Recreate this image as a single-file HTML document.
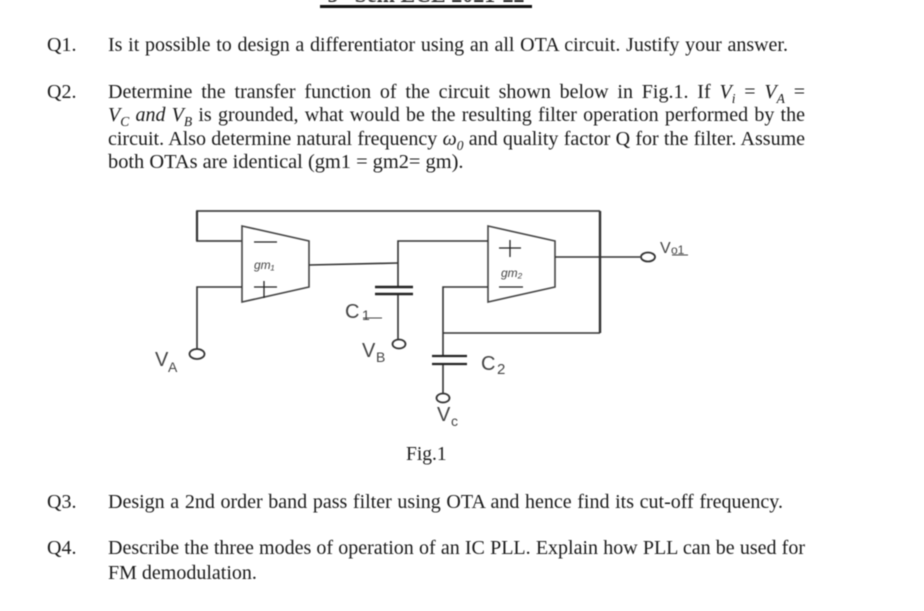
<!DOCTYPE html>
<html><head><meta charset="utf-8"><style>
html,body{margin:0;padding:0;background:#fff}
#p{position:relative;width:924px;height:611px;overflow:hidden;background:#fff;filter:blur(0.45px)}
.l{position:absolute;font:20px/20px "Liberation Serif",serif;color:#1a1a1a;text-align:justify;text-align-last:justify}
.s{text-align:left;text-align-last:left;white-space:nowrap}
i sub{font-size:13.5px;line-height:0}
svg{position:absolute;left:0;top:0}
</style></head><body><div id="p">
<div class="l s" style="left:320px;top:-14px;width:212px;font-weight:bold;font-size:22px;border-bottom:3px solid #111;text-align:center;text-align-last:center;line-height:18px;height:19px">5<sup style="font-size:12px;line-height:0">th</sup> Sem ECE 2021-22</div>
<div class="l s" style="left:47px;top:35px">Q1.</div>
<div class="l" style="left:108px;top:35px;width:680px">Is it possible to design a differentiator using an all OTA circuit. Justify your answer.</div>
<div class="l s" style="left:47px;top:82px">Q2.</div>
<div class="l" style="left:108px;top:82px;width:697px">Determine the transfer function of the circuit shown below in Fig.1. If <i>V<sub>i</sub></i> = <i>V<sub>A</sub></i> =</div>
<div class="l" style="left:108px;top:105px;width:697px"><i>V<sub>C</sub> and V<sub>B</sub></i> is grounded, what would be the resulting filter operation performed by the</div>
<div class="l" style="left:108px;top:129px;width:697px">circuit. Also determine natural frequency <i>ω<sub>0</sub></i> and quality factor Q for the filter. Assume</div>
<div class="l s" style="left:108px;top:152px;font-size:20.4px">both OTAs are identical (gm1 = gm2= gm).</div>
<div class="l s" style="left:406px;top:445px;font-size:19.5px">Fig.1</div>
<div class="l s" style="left:47px;top:492px">Q3.</div>
<div class="l" style="left:108px;top:492px;width:675px">Design a 2nd order band pass filter using OTA and hence find its cut-off frequency.</div>
<div class="l s" style="left:47px;top:538px">Q4.</div>
<div class="l" style="left:108px;top:538px;width:697px">Describe the three modes of operation of an IC PLL. Explain how PLL can be used for</div>
<div class="l s" style="left:108px;top:563px">FM demodulation.</div>
<svg width="924" height="611" fill="none" stroke="#333" stroke-width="1.6">
<path d="M600 211H197V241H242" stroke-width="1.7" stroke="#444"/>
<path d="M197 211V241" stroke-width="2.2"/>
<path d="M242 226L309 241V287L242 302Z" stroke="#444"/>
<path d="M488 226L555 241V287L488 302Z" stroke="#444"/>
<path d="M197 349V287H242"/>
<path d="M309 265L398 263"/>
<path d="M488 241H398V287M398 294V339"/>
<path d="M375 287H413M375 294H413" stroke-width="2.4" stroke="#222"/>
<path d="M555 257H640"/>
<path d="M600 211V333" stroke-width="2.4"/>
<path d="M600 333H443M488 287H443V356M443 364V393"/>
<path d="M432 356H467M432 364H467" stroke-width="2.2" stroke="#222"/>
<ellipse cx="197" cy="354" rx="7.5" ry="5" stroke-width="1.8"/>
<ellipse cx="399" cy="344" rx="6.5" ry="4.5" stroke-width="1.8"/>
<ellipse cx="443" cy="398" rx="6.5" ry="4.5" stroke-width="1.8"/>
<ellipse cx="648" cy="257" rx="7" ry="4.5" stroke-width="1.8"/>
<path d="M254 242H277M254 287H277M264 281V298M499 248H521M510 240V257M499 287H523" stroke="#222" stroke-width="1.3"/>
<g stroke="none" fill="#444" font-family="Liberation Sans,sans-serif">
<text x="254" y="269" font-size="12" font-style="italic">gm₁</text>
<text x="501" y="277" font-size="12" font-style="italic">gm₂</text>
<text x="345" y="318" font-size="20">C</text><text x="362" y="320" font-size="14">1</text>
<text x="481" y="370" font-size="20">C</text><text x="497" y="374" font-size="15">2</text>
<text x="155" y="366" font-size="20">V</text><text x="168" y="372" font-size="14">A</text>
<text x="362" y="357" font-size="20">V</text><text x="376" y="362" font-size="14">B</text>
<text x="437" y="421" font-size="20">V</text><text x="451" y="426" font-size="14">c</text>
<text x="660" y="253" font-size="16">V</text><text x="671" y="254" font-size="12">o1</text>
</g>
<path d="M363 318H382M672 255H688" stroke="#444" stroke-width="1"/>
</svg>
</div></body></html>
